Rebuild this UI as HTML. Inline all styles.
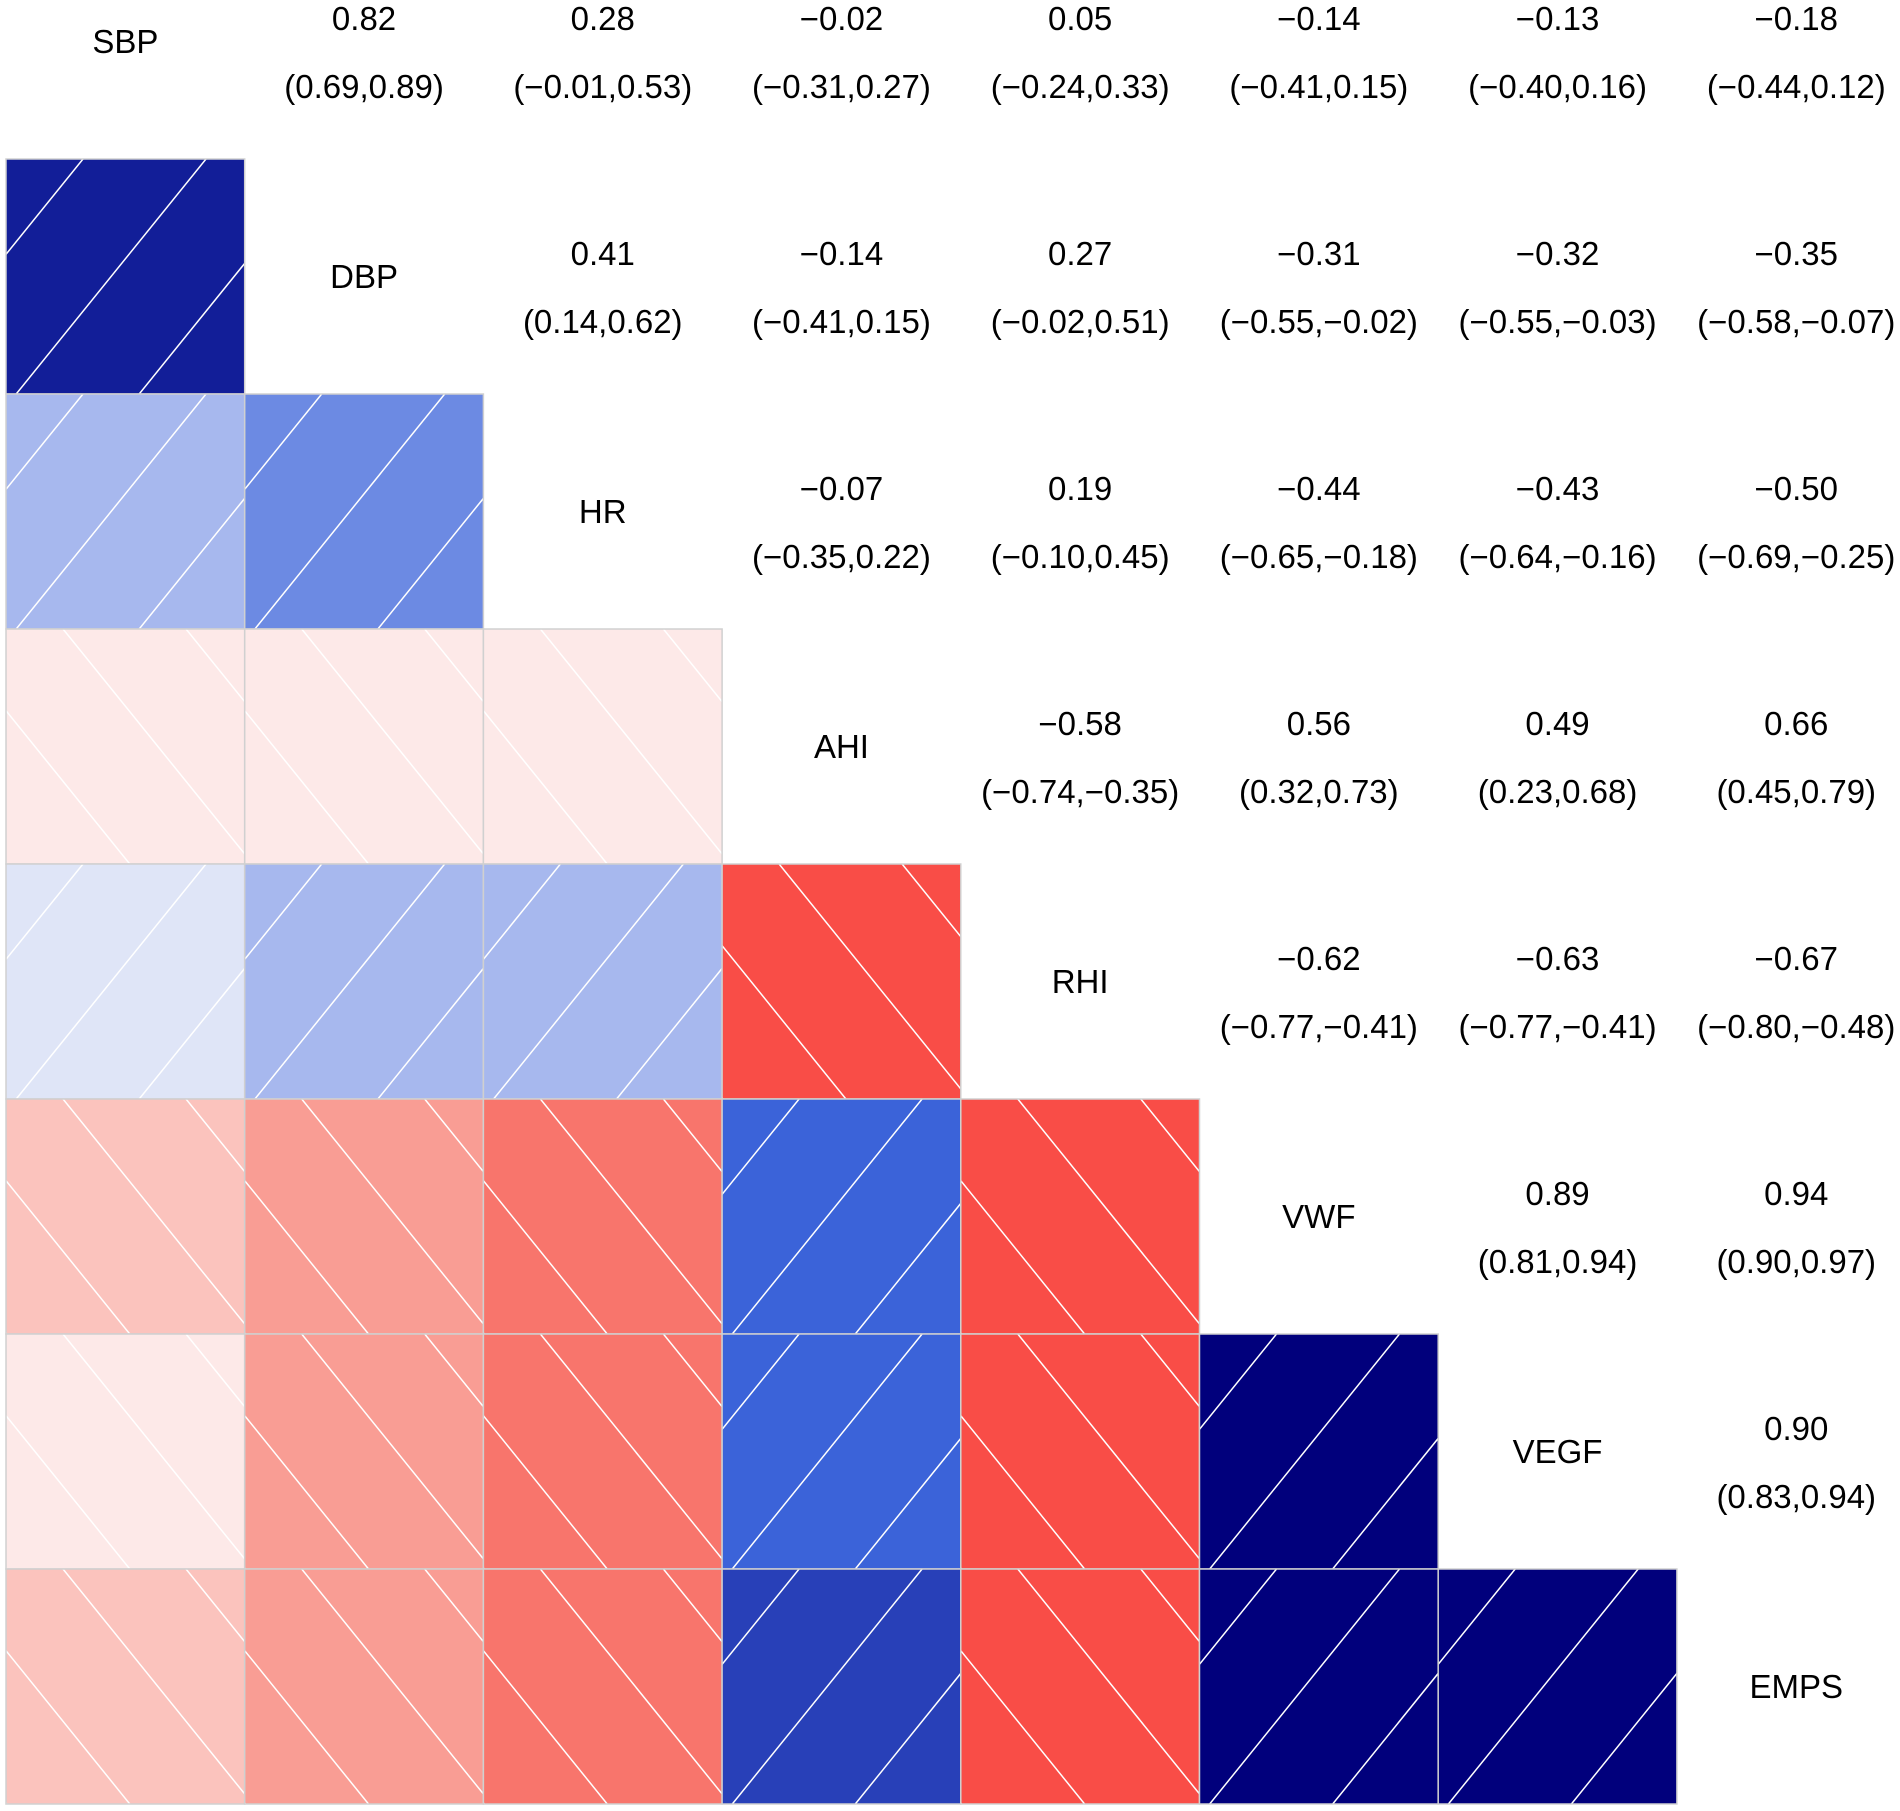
<!DOCTYPE html>
<html><head><meta charset="utf-8"><style>
html,body{margin:0;padding:0;background:#fff;}
svg{display:block;}
text{font-family:"Liberation Sans",Arial,sans-serif;font-size:33px;fill:#000;text-anchor:middle;dominant-baseline:central;}
</style></head><body>
<svg id="s" width="1900" height="1811" xmlns="http://www.w3.org/2000/svg"></svg>
<script>
const names=["SBP","DBP","HR","AHI","RHI","VWF","VEGF","EMPS"];
const up=[
[null,["0.82","(0.69,0.89)"],["0.28","(−0.01,0.53)"],["−0.02","(−0.31,0.27)"],["0.05","(−0.24,0.33)"],["−0.14","(−0.41,0.15)"],["−0.13","(−0.40,0.16)"],["−0.18","(−0.44,0.12)"]],
[null,null,["0.41","(0.14,0.62)"],["−0.14","(−0.41,0.15)"],["0.27","(−0.02,0.51)"],["−0.31","(−0.55,−0.02)"],["−0.32","(−0.55,−0.03)"],["−0.35","(−0.58,−0.07)"]],
[null,null,null,["−0.07","(−0.35,0.22)"],["0.19","(−0.10,0.45)"],["−0.44","(−0.65,−0.18)"],["−0.43","(−0.64,−0.16)"],["−0.50","(−0.69,−0.25)"]],
[null,null,null,null,["−0.58","(−0.74,−0.35)"],["0.56","(0.32,0.73)"],["0.49","(0.23,0.68)"],["0.66","(0.45,0.79)"]],
[null,null,null,null,null,["−0.62","(−0.77,−0.41)"],["−0.63","(−0.77,−0.41)"],["−0.67","(−0.80,−0.48)"]],
[null,null,null,null,null,null,["0.89","(0.81,0.94)"],["0.94","(0.90,0.97)"]],
[null,null,null,null,null,null,null,["0.90","(0.83,0.94)"]]];
const low=[
[1,0,"#121e98",1],
[2,0,"#a7b8ee",1],[2,1,"#6c8ae3",1],
[3,0,"#fde9e8",0],[3,1,"#fde9e8",0],[3,2,"#fde9e8",0],
[4,0,"#dfe5f7",1],[4,1,"#a7b8ee",1],[4,2,"#a7b8ee",1],[4,3,"#f94d47",0],
[5,0,"#fbc3bd",0],[5,1,"#f99d94",0],[5,2,"#f8756c",0],[5,3,"#3b63d9",1],[5,4,"#f94d47",0],
[6,0,"#fde9e8",0],[6,1,"#f99d94",0],[6,2,"#f8756c",0],[6,3,"#3b63d9",1],[6,4,"#f94d47",0],[6,5,"#01007c",1],
[7,0,"#fbc3bd",0],[7,1,"#f99d94",0],[7,2,"#f8756c",0],[7,3,"#2840b8",1],[7,4,"#f94d47",0],[7,5,"#01007c",1],[7,6,"#01007c",1]];
const X0=6,CW=238.7,Y0=-76,CH=235;
let h="<defs>";
low.forEach((c,i)=>{const x=X0+c[1]*CW,y=Y0+c[0]*CH;h+=`<clipPath id="c${i}"><rect x="${x}" y="${y}" width="${CW}" height="${CH}"/></clipPath>`;});
h+="</defs>";
low.forEach((c,i)=>{
 const x=X0+c[1]*CW,y=Y0+c[0]*CH;
 h+=`<rect x="${x}" y="${y}" width="${CW}" height="${CH}" fill="${c[2]}"/>`;
 h+=`<g clip-path="url(#c${i})" stroke="#fff" stroke-width="1.5">`;
 const s=189/234;
 for(let k=-3;k<4;k++){
  if(c[3]){const tx=x+77+k*123;h+=`<line x1="${tx}" y1="${y}" x2="${tx-s*CH}" y2="${y+CH}"/>`;}
  else{const tx=x+57+k*123;h+=`<line x1="${tx}" y1="${y}" x2="${tx+s*CH}" y2="${y+CH}"/>`;}
 }
 h+=`</g><rect x="${x}" y="${y}" width="${CW}" height="${CH}" fill="none" stroke="#d0d0d0" stroke-width="1.5"/>`;
});
names.forEach((n,i)=>{const cx=X0+(i+0.5)*CW,cy=Y0+(i+0.5)*CH;h+=`<text x="${cx}" y="${cy}">${n}</text>`;});
up.forEach((r,i)=>r.forEach((v,j)=>{if(!v)return;const cx=X0+(j+0.5)*CW,cy=Y0+(i+0.5)*CH;
 h+=`<text x="${cx}" y="${cy-23}">${v[0]}</text><text x="${cx}" y="${cy+45}">${v[1]}</text>`;}));
document.getElementById("s").innerHTML=h;
</script>
</body></html>
